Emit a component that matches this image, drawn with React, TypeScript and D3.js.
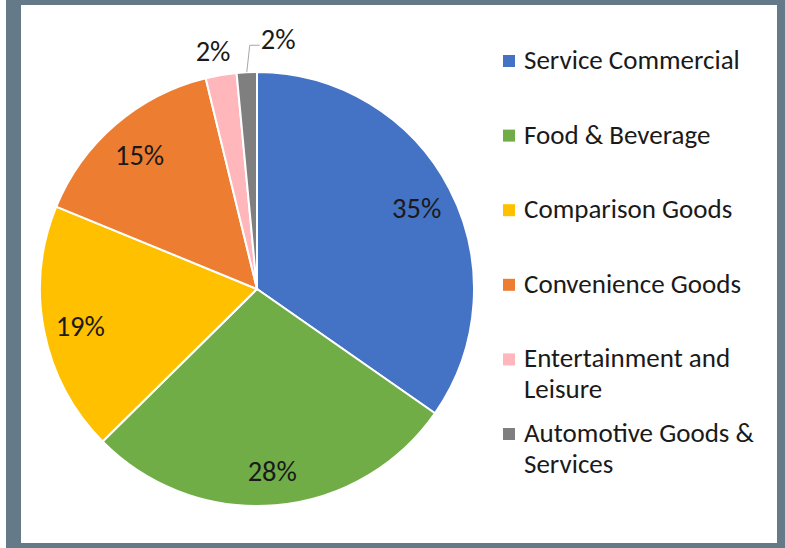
import { useEffect, useRef } from 'react';
import * as d3 from 'd3';

const categories = [
  'Service Commercial',
  'Food & Beverage',
  'Comparison Goods',
  'Convenience Goods',
  'Entertainment and Leisure',
  'Automotive Goods & Services',
];
const shares = [34.7, 27.9, 18.6, 15.0, 2.3, 1.5];
const pctLabels = ['35%', '28%', '19%', '15%', '2%', '2%'];
const legendLines = [
  ['Service Commercial'],
  ['Food & Beverage'],
  ['Comparison Goods'],
  ['Convenience Goods'],
  ['Entertainment and', 'Leisure'],
  ['Automotive Goods &', 'Services'],
];
const colors = ['#4472C4', '#70AD47', '#FFC000', '#ED7D31', '#FFB7BC', '#7F7F7F'];

type Slice = { name: string; value: number; label: string; color: string };

const FONT = "Calibri, Carlito, 'Open Sans', sans-serif";

export default function App() {
  const svgRef = useRef<SVGSVGElement>(null);

  useEffect(() => {
    document.body.style.margin = '0';
    if (!svgRef.current) return;
    const svg = d3.select(svgRef.current);
    svg.selectAll('*').remove();

    const width = 785;
    const height = 548;

    // frame
    svg.append('rect').attr('x', 6).attr('y', 0).attr('width', width - 6).attr('height', height).attr('fill', '#647A88');
    svg.append('rect').attr('x', 21).attr('y', 5).attr('width', 756).attr('height', 538).attr('fill', '#fff');

    const data: Slice[] = categories.map((c, i) => ({
      name: c,
      value: shares[i],
      label: pctLabels[i],
      color: colors[i],
    }));

    const cx = 257;
    const cy = 289;
    const r = 217;
    const labelSize = 28.5;

    const pie = d3.pie<Slice>().sort(null).value(d => d.value);
    const arcs = pie(data);
    const arc = d3.arc<d3.PieArcDatum<Slice>>().innerRadius(0).outerRadius(r);
    const labelArc = d3.arc<d3.PieArcDatum<Slice>>().innerRadius(r * 0.83).outerRadius(r * 0.83);
    const outerArc = d3.arc<d3.PieArcDatum<Slice>>().innerRadius(r * 1.11).outerRadius(r * 1.11);

    const g = svg.append('g').attr('transform', `translate(${cx},${cy})`);

    g.selectAll('path')
      .data(arcs)
      .join('path')
      .attr('d', arc)
      .attr('fill', d => d.data.color)
      .attr('stroke', '#fff')
      .attr('stroke-width', 2);

    // inside labels for the big slices
    g.selectAll('text.inside')
      .data(arcs.filter(d => d.data.value > 5))
      .join('text')
      .attr('class', 'inside')
      .attr('x', d => labelArc.centroid(d)[0])
      .attr('y', d => labelArc.centroid(d)[1] + 3)
      .attr('text-anchor', 'middle')
      .attr('dominant-baseline', 'central')
      .attr('font-family', FONT)
      .attr('font-size', labelSize)
      .attr('fill', '#1a1a1a')
      .text(d => d.data.label);

    // pink: outside, straight above
    const pink = arcs[4];
    const pp = outerArc.centroid(pink);
    g.append('text')
      .attr('x', pp[0] - 4)
      .attr('y', pp[1])
      .attr('text-anchor', 'middle')
      .attr('dominant-baseline', 'central')
      .attr('font-family', FONT)
      .attr('font-size', labelSize)
      .attr('fill', '#1a1a1a')
      .text(pink.data.label);

    // gray: leader line then label to the right
    const gray = arcs[5];
    const mid = (gray.startAngle + gray.endAngle) / 2;
    const p0: [number, number] = [Math.sin(mid) * r, -Math.cos(mid) * r];
    const p1: [number, number] = [p0[0] + 3, p0[1] - 27];
    const p2: [number, number] = [p1[0] + 10, p1[1]];
    g.append('path')
      .attr('d', d3.line()([p0, p1, p2]))
      .attr('fill', 'none')
      .attr('stroke', '#a6a6a6')
      .attr('stroke-width', 1);
    g.append('text')
      .attr('x', p2[0] + 1)
      .attr('y', p2[1] - 6)
      .attr('text-anchor', 'start')
      .attr('dominant-baseline', 'central')
      .attr('font-family', FONT)
      .attr('font-size', labelSize)
      .attr('fill', '#1a1a1a')
      .text(gray.data.label);

    // legend
    const legendY = d3.scaleLinear().domain([0, 5]).range([69, 442]);
    const legend = svg.append('g');
    const items = legend.selectAll('g').data(data).join('g')
      .attr('transform', (_, i) => `translate(503,${legendY(i)})`);
    items.append('rect')
      .attr('x', 0)
      .attr('y', -14)
      .attr('width', 12)
      .attr('height', 12)
      .attr('fill', d => d.color);
    items.append('text')
      .attr('x', 21)
      .attr('y', 0)
      .attr('font-family', FONT)
      .attr('font-size', 27)
      .attr('fill', '#1a1a1a')
      .selectAll('tspan')
      .data((_, i) => legendLines[i])
      .join('tspan')
      .attr('x', 21)
      .attr('dy', (_, j) => (j === 0 ? 0 : 31))
      .text(t => t);
  }, []);

  return <svg ref={svgRef} width={785} height={548} style={{ display: 'block' }} />;
}
